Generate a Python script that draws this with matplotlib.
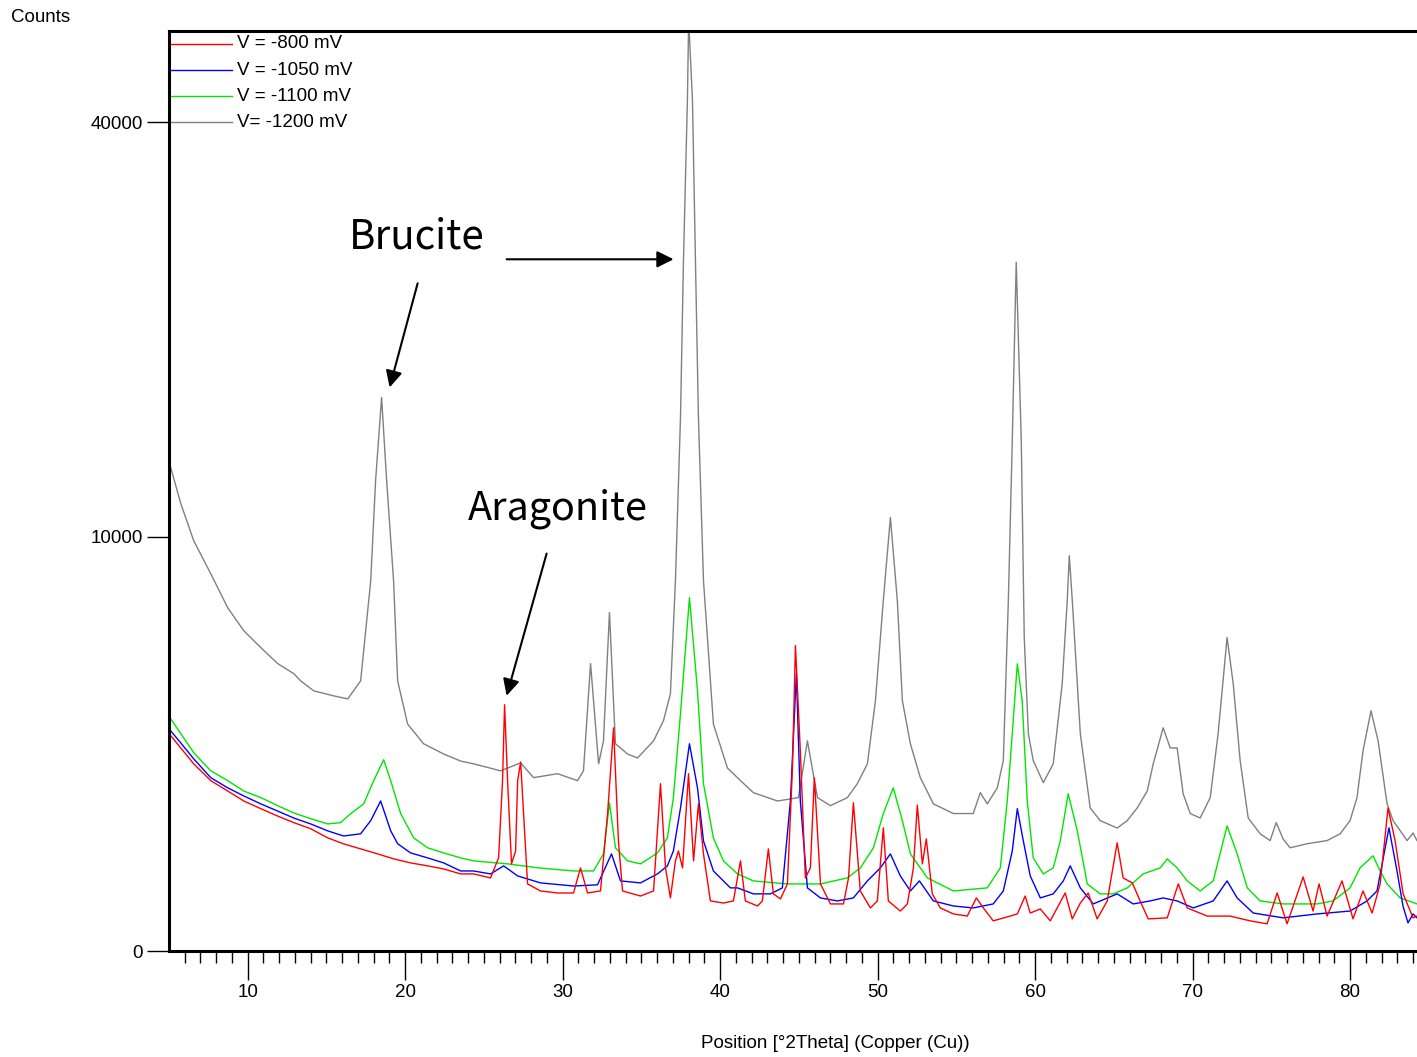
import numpy as np
import matplotlib
matplotlib.use("Agg")
import matplotlib.pyplot as plt
from matplotlib import font_manager

# XRD patterns, values (2theta in degrees, counts)
theta_1200 = [5.05, 5.75, 6.57, 7.65, 8.73, 9.75, 10.83, 11.90, 12.92, 13.36, 14.19, 15.46, 16.35, 17.17,
              17.81, 18.12, 18.50, 18.82, 19.26, 19.52, 20.15, 21.17, 22.44, 23.52, 24.34, 26.06, 27.33,
              28.15, 29.67, 30.94, 31.32, 31.77, 32.28, 32.59, 32.97, 33.35, 34.12, 34.75, 35.77, 36.40,
              36.84, 37.16, 37.48, 37.67, 37.92, 38.00, 38.24, 38.43, 38.62, 38.94, 39.57, 40.46, 41.29,
              42.11, 43.64, 44.97, 45.54, 46.18, 47.00, 48.08, 48.71, 49.35, 49.86, 50.36, 50.81, 51.25,
              51.57, 52.08, 52.71, 53.54, 54.81, 56.07, 56.52, 56.96, 57.60, 57.98, 58.30, 58.55, 58.80,
              59.12, 59.31, 59.57, 59.88, 60.52, 61.15, 61.72, 62.04, 62.17, 62.36, 62.87, 63.50, 64.13,
              65.21, 65.85, 66.48, 67.12, 67.50, 68.13, 68.58, 69.02, 69.40, 69.85, 70.48, 71.12, 71.62,
              72.19, 72.58, 73.02, 73.53, 74.29, 74.92, 75.31, 75.75, 76.19, 77.27, 78.54, 79.37, 80.00,
              80.44, 80.82, 81.33, 81.78, 82.35, 82.73, 83.62, 84.00, 84.25]
counts_1200 = [13800, 11650, 9800, 8290, 6860, 5970, 5360, 4810, 4480, 4250, 3940, 3790, 3700, 4250,
               7990, 12890, 17840, 12890, 7990, 4250, 3000, 2500, 2260, 2100, 2040, 1890, 2060,
               1750, 1830, 1690, 1890, 4810, 2040, 2570, 6670, 2500, 2260, 2170, 2570, 3090,
               3850, 7990, 16575, 27780, 42150, 50500, 42150, 27780, 16575, 7990, 3000, 1950, 1690,
               1460, 1310, 1370, 2570, 1370, 1230, 1370, 1630, 2040, 3650, 7150, 10940, 7150,
               3650, 2500, 1750, 1260, 1100, 1100, 1460, 1260, 1550, 2110, 7150, 15180, 27620,
               15180, 5720, 2750, 2110, 1650, 2040, 4160, 7150, 9100, 7150, 2750, 1190, 990,
               880, 990, 1190, 1490, 2040, 2900, 2400, 2400, 1440, 1100, 1030, 1370, 2750,
               5720, 4160, 2110, 1030, 800, 710, 960, 730, 620, 670, 710, 800, 990,
               1370, 2330, 3360, 2570, 1260, 990, 710, 810, 710]

theta_1100 = [5.11, 5.75, 6.57, 7.65, 8.73, 9.75, 10.83, 11.90, 12.92, 14.00, 15.08, 15.90, 16.54, 17.36,
              18.00, 18.63, 19.08, 19.71, 20.54, 21.42, 22.44, 23.52, 24.34, 26.50, 28.59, 30.69, 31.96,
              32.59, 32.97, 33.35, 34.12, 34.94, 36.02, 36.65, 37.03, 37.48, 38.05, 38.56, 38.94, 39.57,
              40.21, 41.10, 42.11, 44.27, 46.37, 48.08, 48.90, 49.73, 50.36, 50.99, 51.57, 52.08, 53.16,
              54.81, 56.96, 57.79, 58.23, 58.55, 58.87, 59.18, 59.50, 59.88, 60.52, 61.15, 61.60, 62.10,
              62.68, 63.31, 64.13, 64.96, 65.85, 66.86, 67.94, 68.39, 69.02, 69.66, 70.48, 71.31, 72.19,
              72.83, 73.47, 74.29, 75.75, 77.91, 78.92, 80.00, 80.63, 81.46, 81.91, 82.35, 83.18, 84.25]
counts_1100 = [3140, 2750, 2290, 1890, 1690, 1490, 1370, 1230, 1110, 1020, 940, 960, 1100, 1260,
               1690, 2130, 1690, 1100, 745, 620, 560, 505, 473, 442, 400, 373, 373,
               550, 1280, 620, 473, 442, 560, 745, 1370, 3280, 7270, 3940, 1630, 745,
               473, 346, 286, 262, 262, 311, 402, 619, 1100, 1550, 990, 549, 311,
               210, 232, 402, 1310, 2750, 4800, 3650, 1310, 505, 346, 402, 706, 1440,
               840, 262, 190, 190, 232, 346, 402, 494, 402, 286, 210, 286, 912,
               550, 232, 146, 129, 129, 146, 232, 402, 527, 373, 262, 164, 129]

theta_1050 = [5.11, 5.75, 6.57, 7.65, 8.73, 9.75, 10.83, 11.90, 12.92, 14.00, 15.08, 16.09, 17.17, 17.81,
              18.44, 19.08, 19.52, 20.34, 21.42, 22.44, 23.52, 24.34, 25.42, 26.25, 27.14, 28.59, 30.69,
              32.21, 33.10, 33.67, 34.94, 36.02, 36.65, 37.03, 37.48, 38.05, 38.56, 38.94, 39.57, 40.65,
              41.10, 42.11, 43.19, 43.95, 44.46, 44.84, 45.09, 45.54, 46.37, 47.44, 48.46, 49.35, 50.17,
              50.81, 51.44, 52.08, 52.65, 53.54, 54.81, 56.07, 57.34, 57.98, 58.55, 58.87, 59.25, 59.69,
              60.33, 61.15, 61.79, 62.23, 62.87, 63.69, 65.21, 66.23, 67.31, 68.13, 69.02, 70.04, 71.31,
              72.19, 72.83, 73.85, 75.75, 77.91, 80.00, 81.08, 81.71, 82.47, 82.98, 83.36, 83.68, 84.00,
              84.25]
counts_1050 = [2820, 2520, 2150, 1750, 1550, 1400, 1260, 1140, 1030, 940, 840, 770, 800, 990,
               1310, 840, 670, 560, 505, 452, 373, 373, 346, 422, 328, 270, 246,
               255, 549, 286, 270, 346, 422, 583, 1190, 2500, 1550, 706, 373, 232,
               232, 190, 190, 232, 1310, 4480, 1310, 232, 164, 146, 164, 286, 402,
               549, 328, 210, 286, 146, 118, 108, 129, 210, 583, 1180, 706, 328,
               164, 190, 286, 422, 232, 129, 190, 129, 146, 164, 146, 108, 146,
               286, 164, 84, 64, 80, 93, 146, 210, 883, 373, 118, 46, 80,
               64]

theta_800 = [5.11, 5.75, 6.57, 7.65, 8.73, 9.75, 10.83, 11.90, 12.92, 14.00, 15.08, 16.09, 17.17, 18.25,
             19.27, 20.34, 21.42, 22.44, 23.52, 24.34, 25.42, 25.93, 26.18, 26.31, 26.50, 26.75, 27.01,
             27.14, 27.33, 27.52, 27.77, 28.59, 29.67, 30.69, 31.13, 31.58, 32.40, 32.85, 33.23, 33.54,
             33.80, 34.94, 35.77, 36.21, 36.53, 36.84, 37.16, 37.35, 37.61, 37.99, 38.31, 38.62, 38.94,
             39.38, 40.21, 40.84, 41.29, 41.60, 42.37, 42.68, 43.06, 43.38, 43.83, 44.27, 44.59, 44.78,
             45.09, 45.41, 45.73, 45.98, 46.37, 47.00, 47.83, 48.15, 48.46, 48.90, 49.54, 49.98, 50.36,
             50.68, 51.44, 51.89, 52.27, 52.52, 52.84, 53.09, 53.47, 53.98, 54.81, 55.69, 56.27, 56.71,
             57.34, 58.42, 58.87, 59.37, 59.69, 60.33, 60.96, 61.91, 62.36, 62.87, 63.37, 63.94, 64.58,
             65.21, 65.59, 66.17, 66.67, 67.18, 68.39, 69.09, 69.66, 70.93, 72.38, 73.65, 74.73, 75.37,
             76.00, 77.02, 77.65, 78.03, 78.54, 79.49, 80.19, 80.82, 81.40, 81.91, 82.41, 82.86, 83.37,
             84.00, 84.25]
counts_800 = [2700, 2400, 2040, 1690, 1490, 1310, 1180, 1060, 960, 870, 745, 668, 607, 549,
              494, 452, 422, 392, 346, 346, 311, 505, 1690, 3530, 1690, 442, 583,
              1690, 2080, 1095, 262, 210, 196, 196, 402, 196, 210, 1095, 2900, 706,
              210, 176, 210, 1630, 402, 164, 473, 583, 402, 1830, 473, 1260, 549,
              146, 134, 146, 473, 146, 118, 146, 607, 190, 158, 262, 1950, 5430,
              2330, 311, 402, 1750, 262, 129, 129, 311, 1280, 210, 108, 146, 883,
              146, 93, 129, 402, 1240, 442, 732, 190, 108, 80, 71, 164, 108,
              53, 71, 80, 176, 84, 103, 53, 196, 60, 134, 196, 60, 146,
              681, 311, 270, 146, 60, 64, 262, 108, 71, 71, 53, 43, 196,
              43, 319, 93, 262, 71, 286, 60, 210, 84, 262, 1190, 706, 190,
              64, 71]

labels = ["V = -800 mV", "V = -1050 mV", "V = -1100 mV", "V= -1200 mV"]
colors = ["#ff0000", "#0000ff", "#00e600", "#808080"]

available = {f.name for f in font_manager.fontManager.ttflist}
narrow = "Liberation Sans Narrow" if "Liberation Sans Narrow" in available else "Liberation Sans"
plt.rcParams["font.family"] = [narrow, "DejaVu Sans"]
fs = 13.5

fig = plt.figure(figsize=(14.17, 10.57), dpi=100)
ax = fig.add_axes([169 / 1417, 1 - 951 / 1057, 1 - 169 / 1417, 920 / 1057])

ax.set_yscale("function", functions=(lambda v: np.sqrt(np.maximum(v, 0)), lambda v: v ** 2))

series = [(theta_1200, counts_1200), (theta_1100, counts_1100), (theta_1050, counts_1050), (theta_800, counts_800)]
order = [3, 2, 1, 0]
for i, (tx, cy) in zip(order, series):
    ax.plot(tx, cy, color=colors[i], lw=1.0)

ax.set_xlim(5, 84.25)
ax.set_ylim(0, 49280)

ax.set_xticks(range(10, 90, 10))
ax.set_xticks(range(6, 85), minor=True)
ax.set_yticks([0, 10000, 40000])
ax.set_yticklabels(["0", "10000", "40000"])
ax.tick_params(axis="x", which="major", direction="out", length=21, width=1, labelsize=fs, pad=3)
ax.tick_params(axis="x", which="minor", direction="out", length=8.5, width=1)
ax.tick_params(axis="y", which="major", direction="out", length=16, width=1, labelsize=fs, pad=3)
ax.tick_params(axis="y", which="minor", left=False)

for s in ["left", "bottom", "top"]:
    ax.spines[s].set_linewidth(2.2)
ax.spines["right"].set_visible(False)

# legend drawn at the top-left corner, as in the original
legend_y = [0.986, 0.9576, 0.929, 0.901]
for lab, col, ly in zip(labels, colors, legend_y):
    ax.plot([0, 0.0505], [ly, ly], color=col, lw=1.0, transform=ax.transAxes, clip_on=False)
    ax.text(0.0545, ly, lab, transform=ax.transAxes, va="center", ha="left", fontsize=fs)

fig.text(11 / 1417, 1 - 17 / 1057, "Counts", ha="left", va="center", fontsize=fs)
fig.text(835 / 1417, 1 - 1043 / 1057, "Position [\u00b02Theta] (Copper (Cu))", ha="center", va="center",
         fontsize=fs)

# annotations
ann_font = ["Noto Sans CJK JP", "DejaVu Sans"]
arrow = dict(arrowstyle="-|>", color="black", lw=1.5, mutation_scale=25, shrinkA=0, shrinkB=0)
ax.text(20.73, 29660, "Brucite", ha="center", va="center", fontsize=29, family=ann_font)
ax.annotate("", xy=(19.01, 18493), xytext=(20.79, 25957), arrowprops=arrow)
ax.annotate("", xy=(37.04, 27858), xytext=(26.44, 27858), arrowprops=arrow)
ax.text(29.67, 11399, "Aragonite", ha="center", va="center", fontsize=28.5, family=ann_font)
ax.annotate("", xy=(26.44, 3794), xytext=(28.98, 9196), arrowprops=arrow)

fig.savefig("out.png", dpi=100)
